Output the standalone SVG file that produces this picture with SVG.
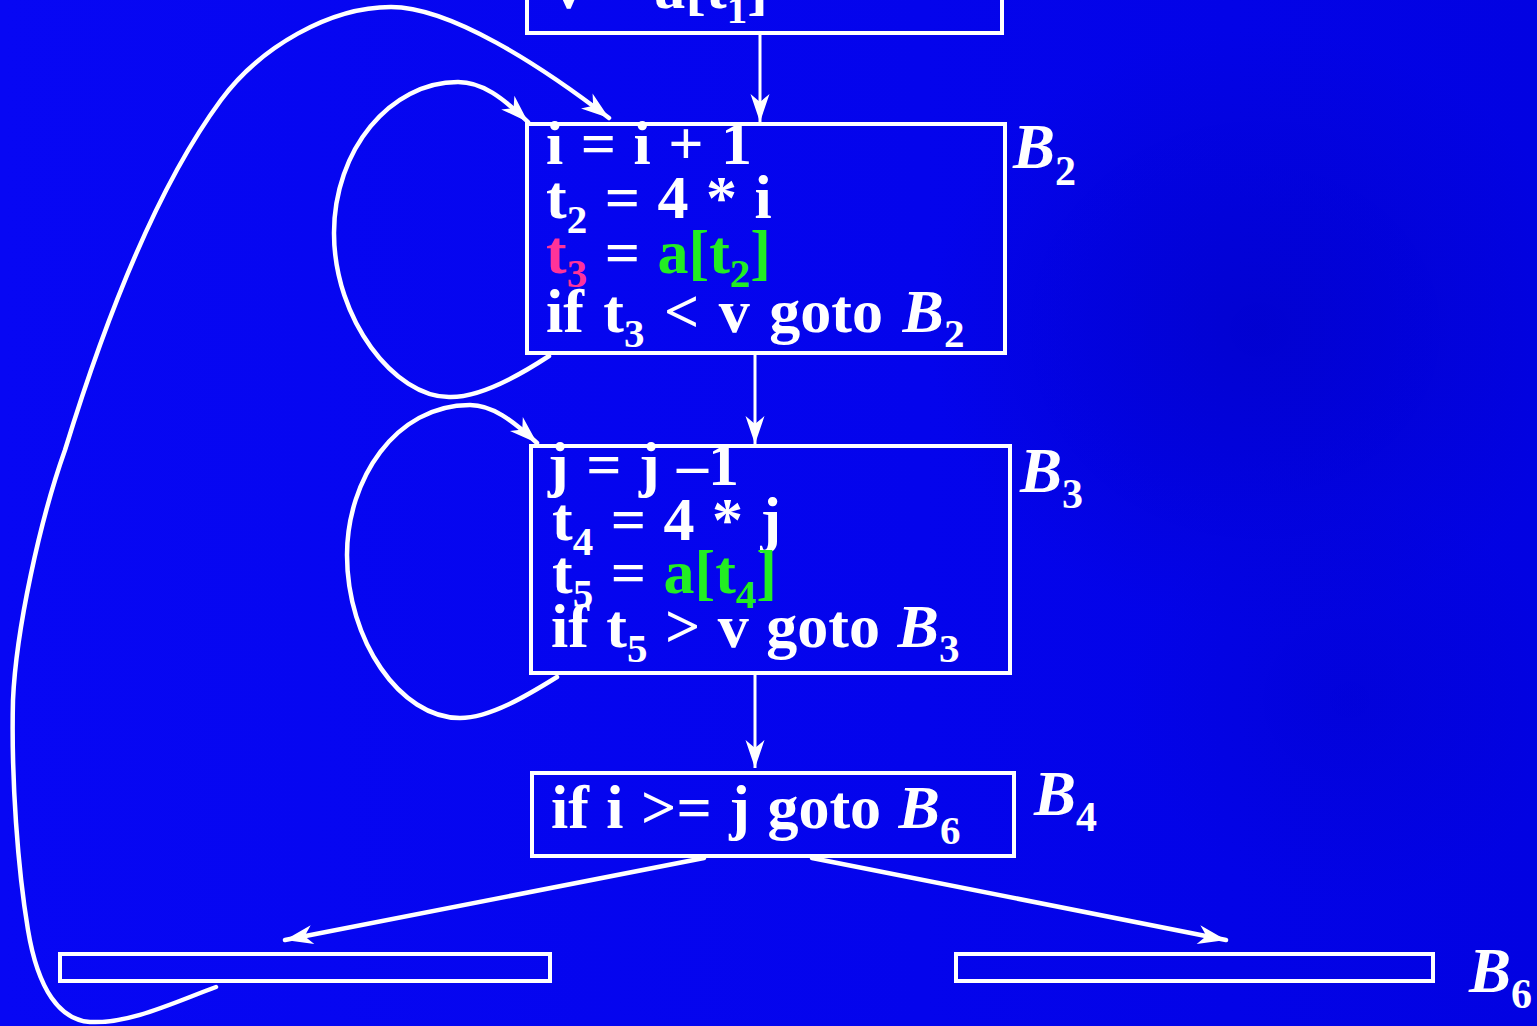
<svg xmlns="http://www.w3.org/2000/svg" width="1537" height="1026" viewBox="0 0 1537 1026">
<defs>
<linearGradient id="bg" x1="0" y1="0" x2="1" y2="0">
<stop offset="0" stop-color="#0707F4"/>
<stop offset="0.6" stop-color="#0404EC"/>
<stop offset="1" stop-color="#0202E2"/>
</linearGradient>
<radialGradient id="dark" cx="0.5" cy="0.5" r="0.5">
<stop offset="0" stop-color="#0000C0" stop-opacity="0.55"/>
<stop offset="1" stop-color="#0000C0" stop-opacity="0"/>
</radialGradient>
<marker id="arr" viewBox="-30 -10 32 20" refX="0" refY="0" markerWidth="32" markerHeight="20" markerUnits="userSpaceOnUse" orient="auto">
<path d="M0,0 L-28,-9.5 L-20,0 L-28,9.5 Z" fill="#fff"/>
</marker>
<style>
.box{fill:none;stroke:#fff;stroke-width:4}
.t{font-family:"Liberation Serif","Times New Roman",serif;font-weight:bold;font-size:62px;fill:#fff;word-spacing:2px}
.w{word-spacing:4px}
.s{font-size:41px}
.lb{font-family:"Liberation Serif","Times New Roman",serif;font-weight:bold;font-style:italic;font-size:63px;fill:#fff}
.ls{font-style:normal;font-size:42px}
.i{font-style:italic}
.g{fill:#22EE22}
.p{fill:#FF3399}
.c{fill:none;stroke:#fff;stroke-width:4.5;stroke-linecap:round}
.v{fill:none;stroke:#fff;stroke-width:3}
</style>
</defs>
<rect x="0" y="0" width="1537" height="1026" fill="url(#bg)"/>
<ellipse cx="1260" cy="330" rx="330" ry="300" fill="url(#dark)"/>
<ellipse cx="1350" cy="700" rx="220" ry="200" fill="url(#dark)" opacity="0.5"/>

<g id="B1">
<rect class="box" x="527" y="-10" width="475" height="43"/>
<text class="t" x="553" y="8">v = a[t<tspan class="s" dy="15">1</tspan><tspan dy="-15">]</tspan></text>
</g>

<g id="B2">
<rect class="box" x="527" y="124" width="478" height="229"/>
<text class="t" x="546" y="164">i = i + 1</text>
<text class="t" x="546" y="218">t<tspan class="s" dy="15">2</tspan><tspan dy="-15"> = 4 * i</tspan></text>
<text class="t" x="546" y="273"><tspan class="p">t</tspan><tspan class="p s" dy="14">3</tspan><tspan dy="-14"> = </tspan><tspan class="g">a[t</tspan><tspan class="g s" dy="14">2</tspan><tspan class="g" dy="-14">]</tspan></text>
<text class="t w" x="546" y="332">if t<tspan class="s" dy="15">3</tspan><tspan dy="-15"> &lt; v goto </tspan><tspan class="i">B</tspan><tspan class="s" dy="15">2</tspan></text>
<text class="lb" x="1013" y="168">B<tspan class="ls" dy="17">2</tspan></text>
</g>

<g id="B3">
<rect class="box" x="531" y="446" width="479" height="227"/>
<text class="t" x="548" y="485">j = j –1</text>
<text class="t" x="552" y="540">t<tspan class="s" dy="15">4</tspan><tspan dy="-15"> = 4 * j</tspan></text>
<text class="t" x="552" y="593">t<tspan class="s" dy="14">5</tspan><tspan dy="-14"> = </tspan><tspan class="g">a[t</tspan><tspan class="g s" dy="15">4</tspan><tspan class="g" dy="-15">]</tspan></text>
<text class="t" x="551" y="647">if t<tspan class="s" dy="15">5</tspan><tspan dy="-15"> &gt; v goto </tspan><tspan class="i">B</tspan><tspan class="s" dy="15">3</tspan></text>
<text class="lb" x="1020" y="492">B<tspan class="ls" dy="16">3</tspan></text>
</g>

<g id="B4">
<rect class="box" x="532" y="773" width="482" height="83"/>
<text class="t" x="551" y="828">if i &gt;= j goto <tspan class="i">B</tspan><tspan class="s" dy="16">6</tspan></text>
<text class="lb" x="1034" y="815">B<tspan class="ls" dy="16">4</tspan></text>
</g>

<g id="B5">
<rect class="box" x="60" y="954" width="490" height="27"/>
</g>

<g id="B6">
<rect class="box" x="956" y="954" width="477" height="27"/>
<text class="lb" x="1469" y="992">B<tspan class="ls" dy="16">6</tspan></text>
</g>

<g id="connectors">
<line class="v" x1="760" y1="33" x2="760" y2="122" marker-end="url(#arr)"/>
<line class="v" x1="755" y1="355" x2="755" y2="444" marker-end="url(#arr)"/>
<line class="v" x1="755" y1="675" x2="755" y2="768" marker-end="url(#arr)"/>
<line class="c" x1="704" y1="858" x2="285" y2="940" marker-end="url(#arr)"/>
<line class="c" x1="812" y1="858" x2="1226" y2="940" marker-end="url(#arr)"/>
<path class="c" d="M549,356 C520,375 480,398 449,397 C395,397 334,320 334,233 C334,150 390,82 458,82 C482,82 502,97 528,122" marker-end="url(#arr)"/>
<path class="c" d="M557,677 C528,695 490,718 460,718 C400,718 347,640 347,555 C347,480 395,405 470,405 C492,405 512,420 537,443" marker-end="url(#arr)"/>
<path class="c" d="M216,987 C175,1002 130,1024 90,1022 C60,1020 38,990 28,930 C18,870 11,780 13,700 C16,630 40,520 65,450 C85,385 140,210 221,100 C260,47 330,7 391,7 C450,7 540,65 609,118" marker-end="url(#arr)"/>
</g>
</svg>
